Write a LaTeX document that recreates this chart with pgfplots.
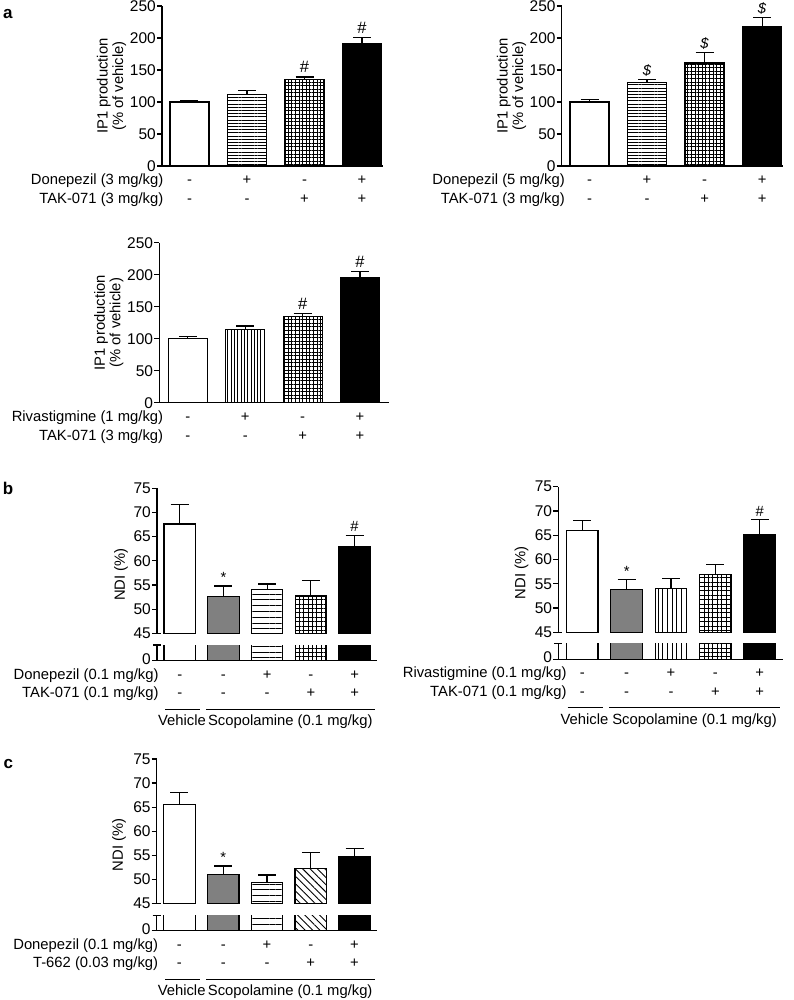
\documentclass[border=0pt]{standalone}
\usepackage{fontspec}
\setmainfont{Liberation Sans}
\usepackage{pgfplots}
\pgfplotsset{compat=1.18}
\usetikzlibrary{patterns.meta}
\definecolor{bargray}{RGB}{128,128,128}
\newcommand{\fs}{\fontsize{14.8}{15.5}\selectfont}
\newcommand{\ft}{\fontsize{15.5}{16}\selectfont}
\newcommand{\sg}[3]{\node[anchor=base,font=\fs,inner sep=0pt,yshift=#2] at (axis cs:#1,0) {#3};}
\newcommand{\rl}[3]{\node[anchor=base east,font=\fs,inner sep=0pt,xshift=#1,yshift=#2] at (rel axis cs:0,0) {#3};}
\pgfplotsset{
  common/.style={
    scale only axis, anchor=south west, clip mode=individual,
    tick align=outside, major tick length=5pt,
    axis line style={line width=1.2pt, black},
    every tick/.style={line width=1.2pt, black},
    tick label style={font=\ft, inner sep=1pt},
    /pgf/number format/assume math mode=true,
    xtick=\empty,
  },
  aaxis/.style={common, height=160pt, ymin=0, ymax=250, ytick={0,50,...,250}, axis lines*=left},
  upaxis/.style={common, ymin=45, ymax=75, ytick={45,50,...,75}, axis y line*=left, axis x line=none},
  loaxis/.style={common, ymin=0, ytick={0}, axis lines*=left, yticklabel style={yshift=2pt}},
  bb/.style={ybar, bar shift=0pt, bar width=#1, draw=black, line width=1.2pt,
    error bars/y dir=plus, error bars/y explicit,
    error bars/error mark=|,
    error bars/error bar style={line width=1.2pt, black, solid},
    error bars/error mark options={line width=1.2pt, black, mark size=9pt}},
  hl/.style={pattern={Lines[angle=0,distance=3.2pt,line width=0.6pt]}, pattern color=black},
  hlw/.style={pattern={Lines[angle=0,distance=5.8pt,line width=0.9pt]}, pattern color=black},
  grid/.style={pattern={Hatch[angle=0,distance=3.6pt,line width=0.6pt]}, pattern color=black},
  gridw/.style={pattern={Hatch[angle=0,distance=4.4pt,line width=0.8pt]}, pattern color=black},
  vl/.style={pattern={Lines[angle=90,distance=3.3pt,line width=0.6pt]}, pattern color=black},
  vlw/.style={pattern={Lines[angle=90,distance=4.7pt,line width=0.8pt]}, pattern color=black},
  diag/.style={pattern={Lines[angle=-45,distance=5.2pt,line width=0.9pt]}, pattern color=black},
}
\tikzset{sig/.style={anchor=south, font=\fontsize{16.5}{17}\selectfont, inner sep=0pt, yshift=4pt},
         sigs/.style={anchor=south, font=\fs, inner sep=0pt, yshift=3pt}}
% bar groups for the broken-axis panels (same data drawn in the upper and lower parts)
\newcommand{\barsBone}[1]{%
  \addplot[bb=0.72, fill=white, #1] coordinates {(0,67.6) +- (0,4.1)};
  \addplot[bb=0.72, fill=bargray, #1] coordinates {(1,52.6) +- (0,2.2)};
  \addplot[bb=0.72, hlw, #1] coordinates {(2,54.0) +- (0,1.2)};
  \addplot[bb=0.72, gridw, #1] coordinates {(3,52.7) +- (0,3.2)};
  \addplot[bb=0.72, fill=black, #1] coordinates {(4,62.9) +- (0,2.4)};
}
\newcommand{\barsBtwo}[1]{%
  \addplot[bb=0.71, fill=white, #1] coordinates {(0,65.9) +- (0,2.1)};
  \addplot[bb=0.71, fill=bargray, #1] coordinates {(1,53.8) +- (0,2.0)};
  \addplot[bb=0.71, vlw, #1] coordinates {(2,54.0) +- (0,2.1)};
  \addplot[bb=0.71, gridw, #1] coordinates {(3,56.9) +- (0,2.0)};
  \addplot[bb=0.71, fill=black, #1] coordinates {(4,65.2) +- (0,3.1)};
}
\newcommand{\barsC}[1]{%
  \addplot[bb=0.72, fill=white, #1] coordinates {(0,65.6) +- (0,2.4)};
  \addplot[bb=0.72, fill=bargray, #1] coordinates {(1,51.0) +- (0,1.8)};
  \addplot[bb=0.72, hlw, #1] coordinates {(2,49.4) +- (0,1.5)};
  \addplot[bb=0.72, diag, #1] coordinates {(3,52.3) +- (0,3.3)};
  \addplot[bb=0.72, fill=black, #1] coordinates {(4,54.8) +- (0,1.7)};
}
\newcommand{\scop}{%
  \draw[line width=1pt] ([yshift=-48.5pt]axis cs:-0.33,0) -- ([yshift=-48.5pt]axis cs:0.46,0);
  \draw[line width=1pt] ([yshift=-48.5pt]axis cs:0.61,0) -- ([yshift=-48.5pt]axis cs:4.46,0);
  \node[anchor=base,font=\fs,inner sep=0pt,yshift=-64.9pt] at (axis cs:0.05,0) {Vehicle};
  \node[anchor=base,font=\fs,inner sep=0pt,yshift=-64.9pt] at (axis cs:2.53,0) {Scopolamine (0.1 mg/kg)};
}
\newcommand{\brk}{\draw[line width=1.2pt] ([xshift=-4pt]rel axis cs:0,1) -- ([xshift=4pt]rel axis cs:0,1);}
\newcommand{\brkup}{\draw[line width=1.2pt] (rel axis cs:0,0) -- ([xshift=4pt]rel axis cs:0,0);}
\newcommand{\fiverows}{%
  \sg{0}{-18.5pt}{-}\sg{1}{-18.5pt}{-}\sg{2}{-18.5pt}{+}\sg{3}{-18.5pt}{-}\sg{4}{-18.5pt}{+}
  \sg{0}{-37.2pt}{-}\sg{1}{-37.2pt}{-}\sg{2}{-37.2pt}{-}\sg{3}{-37.2pt}{+}\sg{4}{-37.2pt}{+}
}
\newcommand{\fourrows}{%
  \sg{0}{-18.5pt}{-}\sg{1}{-18.5pt}{+}\sg{2}{-18.5pt}{-}\sg{3}{-18.5pt}{+}
  \sg{0}{-37.3pt}{-}\sg{1}{-37.3pt}{-}\sg{2}{-37.3pt}{+}\sg{3}{-37.3pt}{+}
}
\begin{document}
\begin{tikzpicture}
\path[use as bounding box] (0pt,0pt) rectangle (794pt,-1000pt);

% ---------- a1 ----------
\begin{axis}[aaxis, at={(162pt,-166pt)}, width=221pt, xmin=-0.478, xmax=3.365]
\addplot[bb=0.68, fill=white] coordinates {(0,100) +- (0,2.5)};
\addplot[bb=0.68, hl] coordinates {(1,112) +- (0,6)};
\addplot[bb=0.68, grid] coordinates {(2,135) +- (0,4)};
\addplot[bb=0.68, fill=black] coordinates {(3,192) +- (0,9)};
\node[sig] at (axis cs:2,139) {\#};
\node[sig] at (axis cs:3,201) {\#};
\fourrows
\rl{1.5pt}{-18.5pt}{Donepezil (3 mg/kg)}
\rl{1.5pt}{-37.3pt}{TAK-071 (3 mg/kg)}
\end{axis}

% ---------- a2 ----------
\begin{axis}[aaxis, at={(561.7pt,-166pt)}, width=221.6pt, xmin=-0.483, xmax=3.367]
\addplot[bb=0.68, fill=white] coordinates {(0,100) +- (0,4)};
\addplot[bb=0.68, hl] coordinates {(1,130) +- (0,5)};
\addplot[bb=0.68, grid] coordinates {(2,161) +- (0,16)};
\addplot[bb=0.68, fill=black] coordinates {(3,218) +- (0,14)};
\node[sigs] at (axis cs:1,135) {\textit{\$}};
\node[sigs] at (axis cs:2,177) {\textit{\$}};
\node[sigs] at (axis cs:3,232) {\textit{\$}};
\fourrows
\rl{3.3pt}{-18.5pt}{Donepezil (5 mg/kg)}
\rl{3.3pt}{-37.3pt}{TAK-071 (3 mg/kg)}
\end{axis}

% ---------- a3 ----------
\begin{axis}[aaxis, at={(159.3pt,-402.7pt)}, width=229.7pt, xmin=-0.497, xmax=3.505]
\addplot[bb=0.68, fill=white] coordinates {(0,100) +- (0,4)};
\addplot[bb=0.68, vl] coordinates {(1,115) +- (0,5)};
\addplot[bb=0.68, grid] coordinates {(2,135) +- (0,4)};
\addplot[bb=0.68, fill=black] coordinates {(3,196) +- (0,9)};
\node[sig] at (axis cs:2,139) {\#};
\node[sig] at (axis cs:3,205) {\#};
\fourrows
\rl{4pt}{-18.5pt}{Rivastigmine (1 mg/kg)}
\rl{4pt}{-37.3pt}{TAK-071 (3 mg/kg)}
\end{axis}

% ---------- b1 ----------
\begin{axis}[upaxis, at={(157pt,-633.3pt)}, width=220.3pt, height=145pt, xmin=-0.52, xmax=4.52]
\barsBone{}
\node[sigs] at (axis cs:1,54.8) {*};
\node[sigs] at (axis cs:4,65.3) {\#};
\brkup
\end{axis}
\begin{axis}[loaxis, at={(157pt,-660.7pt)}, width=220.3pt, height=15.7pt, xmin=-0.52, xmax=4.52, ymax=3.25]
\barsBone{error bars/y dir=none}
\brk
\fiverows
\rl{1.7pt}{-18.5pt}{Donepezil (0.1 mg/kg)}
\rl{1.7pt}{-37.2pt}{TAK-071 (0.1 mg/kg)}
\scop
\end{axis}

% ---------- b2 ----------
\begin{axis}[upaxis, at={(558.3pt,-632.3pt)}, width=225pt, height=145.6pt, xmin=-0.54, xmax=4.53]
\barsBtwo{}
\node[sigs] at (axis cs:1,55.8) {*};
\node[sigs] at (axis cs:4,68.3) {\#};
\brkup
\end{axis}
\begin{axis}[loaxis, at={(558.3pt,-659.3pt)}, width=225pt, height=16pt, xmin=-0.54, xmax=4.53, ymax=3.3]
\barsBtwo{error bars/y dir=none}
\brk
\fiverows
\rl{8.4pt}{-18.5pt}{Rivastigmine (0.1 mg/kg)}
\rl{8.4pt}{-37.2pt}{TAK-071 (0.1 mg/kg)}
\scop
\end{axis}

% ---------- c ----------
\begin{axis}[upaxis, at={(156.7pt,-903.5pt)}, width=220.6pt, height=144.5pt, xmin=-0.52, xmax=4.52]
\barsC{}
\node[sigs] at (axis cs:1,52.8) {*};
\brkup
\end{axis}
\begin{axis}[loaxis, at={(156.7pt,-930.7pt)}, width=220.6pt, height=15.5pt, xmin=-0.52, xmax=4.52, ymax=3.2]
\barsC{error bars/y dir=none}
\brk
\fiverows
\rl{1.6pt}{-18.5pt}{Donepezil (0.1 mg/kg)}
\rl{1.6pt}{-37.2pt}{T-662 (0.03 mg/kg)}
\scop
\end{axis}

% ---------- labels ----------
\begin{scope}[x=1pt,y=-1pt]
\node[anchor=base west, font=\fontsize{17}{17}\bfseries\selectfont, inner sep=0pt] at (3,18.3) {a};
\node[anchor=base west, font=\fontsize{17}{17}\bfseries\selectfont, inner sep=0pt] at (2.7,494.3) {b};
\node[anchor=base west, font=\fontsize{17}{17}\bfseries\selectfont, inner sep=0pt] at (3.3,768) {c};
\node[rotate=90, align=center, font=\fs] at (111.5,86) {IP1 production\\(\% of vehicle)};
\node[rotate=90, align=center, font=\fs] at (511.5,86) {IP1 production\\(\% of vehicle)};
\node[rotate=90, align=center, font=\fs] at (108.8,322.7) {IP1 production\\(\% of vehicle)};
\node[rotate=90, font=\fs] at (121,574.5) {NDI (\%)};
\node[rotate=90, font=\fs] at (521.5,573) {NDI (\%)};
\node[rotate=90, font=\fs] at (119,845) {NDI (\%)};
\end{scope}
\end{tikzpicture}
\end{document}
